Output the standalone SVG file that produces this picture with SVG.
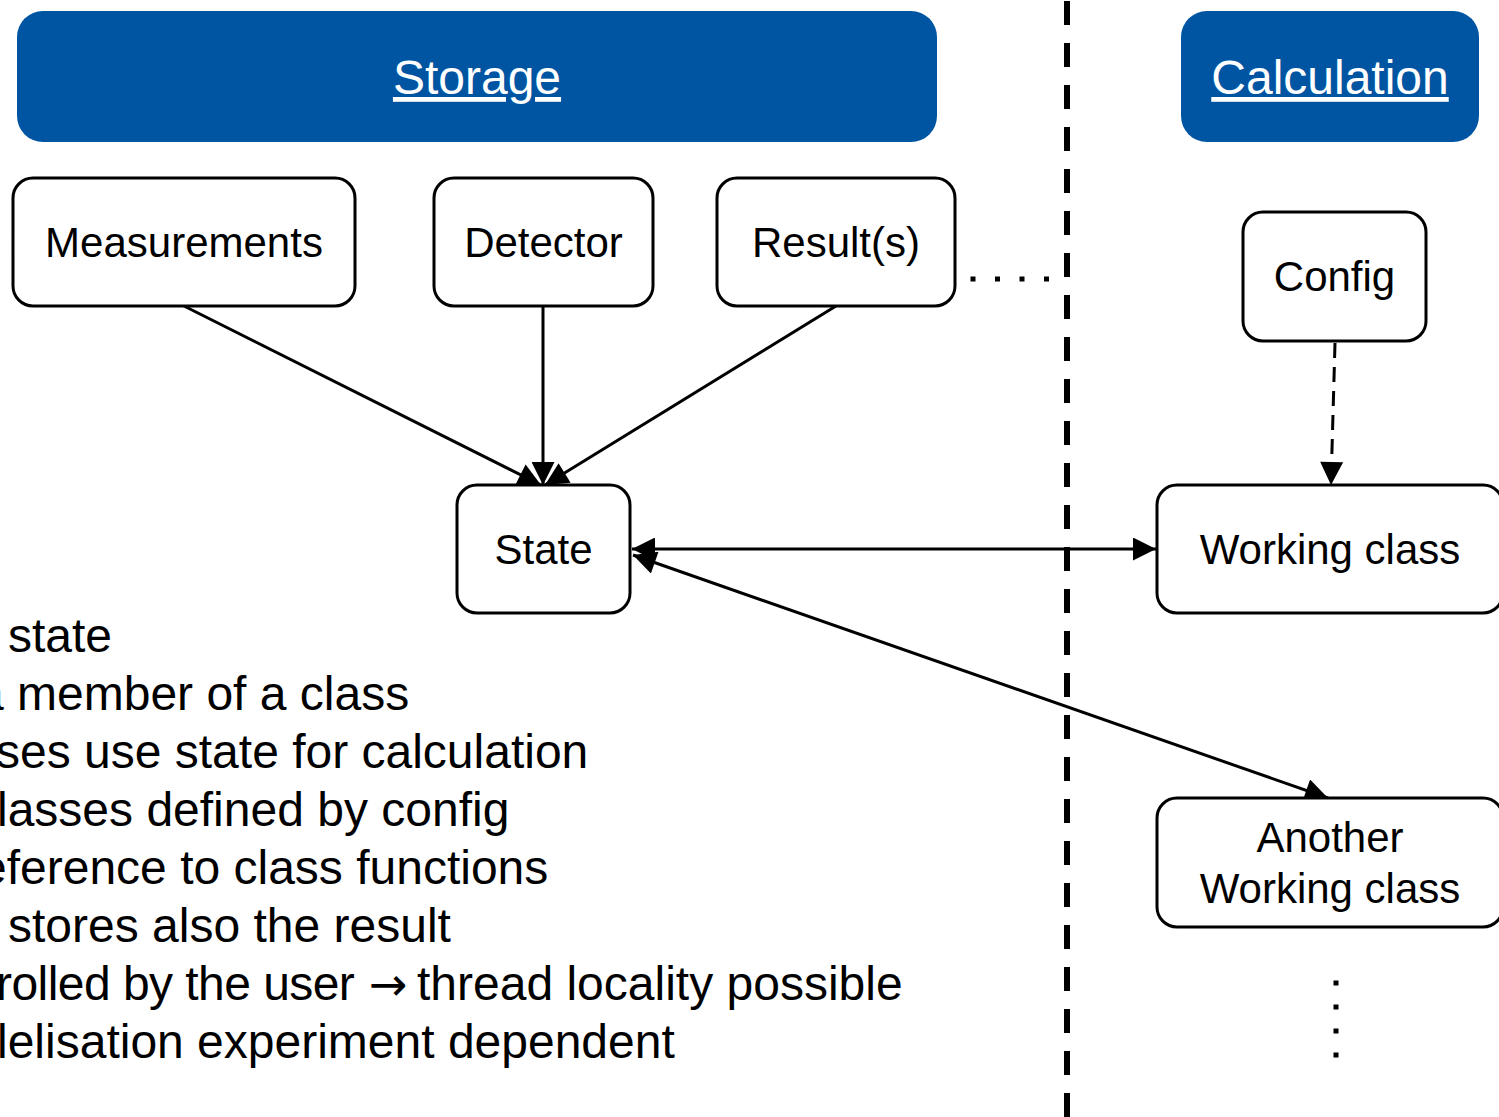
<svg xmlns="http://www.w3.org/2000/svg" width="1499" height="1117" viewBox="0 0 1499 1117">
  <style>
    .header { fill: #0055a3; }
    .header-label { font-family: "Liberation Sans", Arial, sans-serif; font-size: 48px; fill: #ffffff; text-anchor: middle; text-decoration: underline; }
    .box { fill: #ffffff; stroke: #000000; stroke-width: 3; }
    .label { font-family: "Liberation Sans", Arial, sans-serif; font-size: 42px; fill: #000000; text-anchor: middle; }
    .notes { font-family: "Liberation Sans", Arial, sans-serif; font-size: 48px; fill: #000000; }
    .sym { font-family: "DejaVu Sans", sans-serif; }
    .edge { fill: none; stroke: #000000; stroke-width: 3; }
  </style>
  <defs>
    <marker id="arrow" viewBox="0 0 10 10" refX="10" refY="5" markerUnits="userSpaceOnUse" markerWidth="25" markerHeight="23" orient="auto-start-reverse">
      <path d="M0,0 L10,5 L0,10 z" fill="#000000"/>
    </marker>
  </defs>

  <rect width="1499" height="1117" fill="#ffffff"/>

  <!-- section divider -->
  <line x1="1067" y1="1" x2="1067" y2="1117" stroke="#000000" stroke-width="6" stroke-dasharray="24 18"/>

  <!-- section headers -->
  <g id="storage-header">
    <rect class="header" x="17" y="11" width="920" height="131" rx="26"/>
    <text class="header-label" x="477" y="94">Storage</text>
  </g>
  <g id="calculation-header">
    <rect class="header" x="1181" y="11" width="298" height="131" rx="26"/>
    <text class="header-label" x="1330" y="94">Calculation</text>
  </g>

  <!-- connectors -->
  <g id="connectors">
    <line class="edge" x1="184" y1="306" x2="541" y2="485" marker-end="url(#arrow)"/>
    <line class="edge" x1="543" y1="306" x2="543" y2="485" marker-end="url(#arrow)"/>
    <line class="edge" x1="836" y1="306" x2="545" y2="485" marker-end="url(#arrow)"/>
    <line class="edge" x1="1335" y1="343" x2="1331" y2="485" stroke-dasharray="15 9" marker-end="url(#arrow)"/>
    <line class="edge" x1="632" y1="549" x2="1156" y2="549" marker-start="url(#arrow)" marker-end="url(#arrow)"/>
    <line class="edge" x1="633" y1="555" x2="1328" y2="798" marker-start="url(#arrow)" marker-end="url(#arrow)"/>
    <!-- continuation marks -->
    <line x1="970.5" y1="279" x2="1049" y2="279" stroke="#000000" stroke-width="5" stroke-dasharray="5 19.5"/>
    <line x1="1336" y1="980.5" x2="1336" y2="1058" stroke="#000000" stroke-width="5" stroke-dasharray="5 19"/>
  </g>

  <!-- storage nodes -->
  <g id="measurements">
    <rect class="box" x="13" y="178" width="342" height="128" rx="20"/>
    <text class="label" x="184" y="257">Measurements</text>
  </g>
  <g id="detector">
    <rect class="box" x="434" y="178" width="219" height="128" rx="20"/>
    <text class="label" x="543.5" y="257">Detector</text>
  </g>
  <g id="results">
    <rect class="box" x="717" y="178" width="238" height="128" rx="20"/>
    <text class="label" x="836" y="257">Result(s)</text>
  </g>
  <g id="state">
    <rect class="box" x="457" y="485" width="173" height="128" rx="20"/>
    <text class="label" x="543.5" y="564">State</text>
  </g>

  <!-- calculation nodes -->
  <g id="config">
    <rect class="box" x="1243" y="212" width="183" height="129" rx="20"/>
    <text class="label" x="1334.5" y="291">Config</text>
  </g>
  <g id="working-class">
    <rect class="box" x="1157" y="485" width="346" height="128" rx="20"/>
    <text class="label" x="1330" y="564">Working class</text>
  </g>
  <g id="another-working-class">
    <rect class="box" x="1157" y="798" width="346" height="129" rx="20"/>
    <text class="label" x="1330" y="852">Another</text>
    <text class="label" x="1330" y="903">Working class</text>
  </g>

  <!-- notes -->
  <g id="notes" class="notes">
    <text x="8" y="652">state</text>
    <text x="-23" y="710">a member of a class</text>
    <text x="-4" y="768">ses use state for calculation</text>
    <text x="-3" y="826">lasses defined by config</text>
    <text x="-20" y="884">eference to class functions</text>
    <text x="8" y="942">stores also the result</text>
    <text x="-4" y="1000"><tspan letter-spacing="-0.55">rolled by the user</tspan><tspan class="sym" x="369" font-size="46">→</tspan><tspan x="417">thread locality possible</tspan></text>
    <text x="-3" y="1058">lelisation experiment dependent</text>
  </g>
</svg>
